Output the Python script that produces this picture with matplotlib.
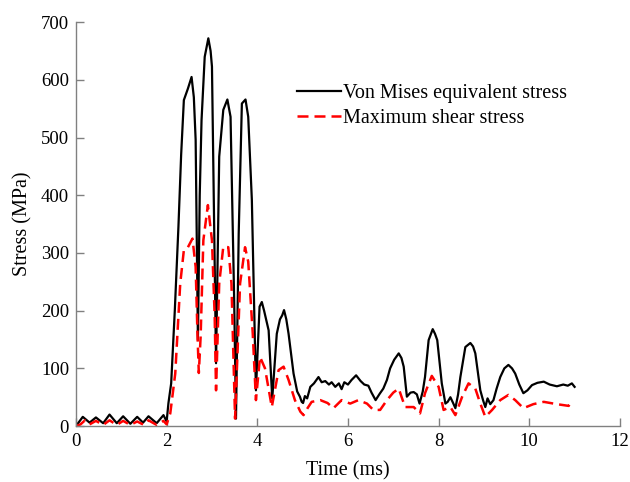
import matplotlib.pyplot as plt
import numpy as np

plt.rcParams['font.family'] = 'Liberation Serif'

# Von Mises equivalent stress (black)
t_vm = [0.0, 0.15, 0.3, 0.44, 0.6, 0.74, 0.9, 1.04, 1.2, 1.35, 1.48, 1.6, 1.78, 1.93, 2.0,
        2.04, 2.06, 2.1, 2.18, 2.26, 2.32, 2.38, 2.47, 2.55, 2.6, 2.64, 2.69, 2.73, 2.77,
        2.84, 2.92, 2.97, 3.0, 3.05, 3.09, 3.16, 3.25, 3.34, 3.41, 3.49, 3.53, 3.59, 3.66,
        3.74, 3.8, 3.88, 3.97, 4.05, 4.1, 4.15, 4.25, 4.33, 4.43, 4.5, 4.55, 4.59, 4.64,
        4.69, 4.8, 4.88, 4.94, 4.98, 5.01, 5.05, 5.1, 5.17, 5.25, 5.35, 5.42, 5.5, 5.58,
        5.64, 5.72, 5.8, 5.86, 5.92, 6.0, 6.08, 6.18, 6.28, 6.36, 6.45, 6.52, 6.61, 6.7,
        6.78, 6.86, 6.93, 7.02, 7.12, 7.18, 7.23, 7.3, 7.38, 7.45, 7.52, 7.58, 7.65, 7.7,
        7.78, 7.87, 7.92, 7.97, 8.07, 8.15, 8.2, 8.26, 8.32, 8.37, 8.43, 8.48, 8.59, 8.7,
        8.76, 8.81, 8.92, 8.98, 9.03, 9.08, 9.14, 9.21, 9.28, 9.36, 9.45, 9.54, 9.62, 9.69,
        9.78, 9.87, 9.96, 10.06, 10.18, 10.32, 10.45, 10.61, 10.75, 10.85, 10.94, 11.0]
s_vm = [0, 16, 6, 15, 5, 20, 5, 17, 4, 16, 6, 17, 5, 19, 8,
        40, 51, 74, 200, 345, 470, 565, 585, 605, 570, 496, 149, 400, 530,
        640, 672, 650, 623, 334, 109, 467, 548, 566, 536, 218, 13, 334, 559,
        566, 536, 392, 62, 207, 215, 200, 166, 48, 160, 185, 192, 201, 185,
        160, 91, 60, 51, 42, 40, 52, 48, 68, 74, 85, 76, 78, 72,
        76, 68, 74, 64, 76, 72, 80, 88, 78, 72, 70, 58, 45, 56,
        65, 80, 100, 115, 126, 118, 103, 51, 58, 59, 55, 39, 60, 85,
        149, 168, 160, 149, 74, 39, 42, 50, 40, 31, 55, 85, 137, 144,
        138, 126, 62, 45, 33, 48, 38, 45, 65, 85, 100, 106, 100, 91,
        72, 57, 62, 71, 75, 77, 72, 69, 72, 70, 74, 68]

# Maximum shear stress (red dashed)
t_sh = [0.0, 0.1, 0.2, 0.3, 0.44, 0.6, 0.74, 0.9, 1.04, 1.2, 1.35, 1.5, 1.6, 1.78, 1.93,
        2.0, 2.08, 2.19, 2.3, 2.38, 2.47, 2.57, 2.64, 2.68, 2.71, 2.75, 2.81, 2.91, 3.0,
        3.06, 3.09, 3.16, 3.25, 3.36, 3.43, 3.51, 3.62, 3.73, 3.8, 3.9, 3.97, 4.06, 4.17,
        4.32, 4.47, 4.58, 4.69, 4.83, 4.95, 5.02, 5.1, 5.2, 5.39, 5.55, 5.68, 5.86, 6.05,
        6.23, 6.42, 6.56, 6.71, 6.86, 7.0, 7.12, 7.26, 7.45, 7.59, 7.7, 7.85, 8.0, 8.11,
        8.26, 8.37, 8.52, 8.66, 8.81, 8.92, 9.03, 9.18, 9.36, 9.54, 9.69, 9.87, 10.09,
        10.32, 10.61, 10.87, 10.94]
s_sh = [0, 3, 10, 3, 9, 2, 10, 2, 9, 2, 8, 2, 10, 2, 9,
        3, 22, 91, 247, 305, 310, 325, 276, 160, 92, 155, 322, 383, 322,
        190, 62, 247, 311, 310, 247, 13, 247, 310, 285, 160, 45, 120, 100,
        33, 97, 103, 80, 45, 25, 19, 30, 42, 45, 40, 31, 45, 39,
        45, 39, 28, 28, 45, 58, 65, 33, 33, 22, 57, 87, 68, 28,
        33, 19, 51, 74, 65, 39, 16, 28, 45, 54, 45, 31, 38,
        42, 38, 35, 45]

fig = plt.figure(figsize=(6.3, 4.82), dpi=100)
ax = fig.add_axes([0.1206, 0.116, 0.8634, 0.838])
ax.plot(t_vm, s_vm, color='black', lw=1.6, label='Von Mises equivalent stress')
ax.plot(t_sh, s_sh, color='red', lw=1.8, ls=(0, (4.4, 2.4)), label='Maximum shear stress')

ax.set_xlim(0, 12)
ax.set_ylim(0, 700)
ax.set_xticks(np.arange(0, 13, 2))
ax.set_yticks(np.arange(0, 701, 100))
ax.set_xlabel('Time (ms)', fontsize=14.5, labelpad=8)
ax.set_ylabel('Stress (MPa)', fontsize=14.5, labelpad=6)
for s in ['top', 'right']:
    ax.spines[s].set_visible(False)
for s in ['left', 'bottom']:
    ax.spines[s].set_color('#808080')
    ax.spines[s].set_linewidth(1.0)
ax.tick_params(direction='in', length=6, width=1.0, color='#808080', labelsize=13.5, pad=5)
ax.legend(loc='upper left', bbox_to_anchor=(0.406, 0.847), frameon=False, fontsize=14.5,
          handlelength=2.2, handletextpad=0.1, labelspacing=0.3,
          borderpad=0, borderaxespad=0)

fig.savefig('out.png', dpi=100)
